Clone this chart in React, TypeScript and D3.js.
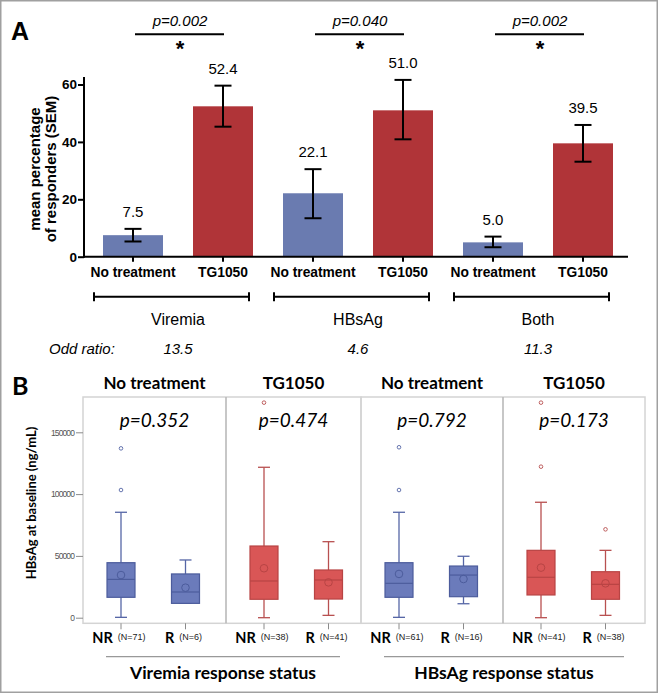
import React, { useEffect, useRef } from "react";
import * as d3 from "d3";

// ---------- Panel A data ----------
const barCategories = ["No treatment", "TG1050", "No treatment", "TG1050", "No treatment", "TG1050"];
const barGroups = ["Viremia", "HBsAg", "Both"];
const barMeans = [7.5, 52.4, 22.1, 51.0, 5.0, 39.5];
const barErrLow = [5.3, 45.3, 13.4, 40.9, 3.3, 33.1];
const barErrHigh = [9.7, 59.6, 30.5, 61.6, 7.0, 45.9];
const pValuesA = ["p=0.002", "p=0.040", "p=0.002"];
const oddRatios = ["13.5", "4.6", "11.3"];
const yTicksA = [0, 20, 40, 60];

// ---------- Panel B data ----------
const boxPanels = ["No treatment", "TG1050", "No treatment", "TG1050"];
const boxPanelP = ["p=0.352", "p=0.474", "p=0.792", "p=0.173"];
const boxStatus = ["Viremia response status", "HBsAg response status"];
const boxGroups = ["NR", "R"];
const boxN = ["N=71", "N=6", "N=38", "N=41", "N=61", "N=16", "N=41", "N=38"];
const whiskerLow = [300, 11600, 0, 1900, 300, 11300, 0, 1900];
const q1 = [16500, 11600, 14900, 15100, 16500, 17000, 18400, 14900];
const median = [31000, 20800, 29700, 30500, 27800, 34500, 32700, 27000];
const q3 = [44500, 35400, 58000, 38600, 44500, 41800, 54500, 37200];
const whiskerHigh = [85300, 46700, 121700, 61500, 85300, 49700, 93400, 54500];
const boxMeans = [34500, 24300, 40000, 28600, 35400, 31300, 40500, 27800];
const outliers = [[137000, 103300], [], [174000], [], [137900, 103300], [], [174000, 122200], [71500]];
const yTicksB = [0, 50000, 100000, 150000];

const W = 658, H = 694;
const ARIAL = "Liberation Sans, Arial, sans-serif";
const LATO = "Lato, 'Open Sans', sans-serif";

export default function App() {
  const ref = useRef<SVGSVGElement>(null);
  useEffect(() => {
    const svg = d3.select(ref.current);
    svg.selectAll("*").remove();

    svg.append("rect").attr("x", 0.75).attr("y", 0.75).attr("width", W - 1.5).attr("height", H - 2.5)
      .attr("fill", "#fff").attr("stroke", "#a0a0a0").attr("stroke-width", 1.5);

    // ================= Panel A =================
    const gA = svg.append("g");
    const x = d3.scaleBand<number>().domain(d3.range(6)).range([88, 628]).paddingInner(1 / 3).paddingOuter(1 / 6);
    const y = d3.scaleLinear().domain([0, 60]).range([256.7, 84.5]);
    const cx = (i: number) => (x(i) as number) + x.bandwidth() / 2;
    const blueA = "#6a7bb0", redA = "#b03438";

    gA.append("text").attr("x", 11).attr("y", 40).attr("font-family", ARIAL).attr("font-weight", "bold")
      .attr("font-size", 25).text("A");

    // bars
    gA.selectAll("rect.bar").data(barMeans).enter().append("rect")
      .attr("x", (_d, i) => x(i) as number).attr("width", x.bandwidth())
      .attr("y", d => y(d)).attr("height", d => y(0) - y(d))
      .attr("fill", (_d, i) => (i % 2 === 0 ? blueA : redA));

    // error bars
    const eb = gA.selectAll("g.eb").data(barMeans).enter().append("g");
    eb.append("line").attr("x1", (_d, i) => cx(i)).attr("x2", (_d, i) => cx(i))
      .attr("y1", (_d, i) => y(barErrLow[i])).attr("y2", (_d, i) => y(barErrHigh[i]))
      .attr("stroke", "#000").attr("stroke-width", 2);
    [barErrLow, barErrHigh].forEach(arr => {
      eb.append("line").attr("x1", (_d, i) => cx(i) - 8.5).attr("x2", (_d, i) => cx(i) + 8.5)
        .attr("y1", (_d, i) => y(arr[i])).attr("y2", (_d, i) => y(arr[i]))
        .attr("stroke", "#000").attr("stroke-width", 2);
    });
    eb.append("text").attr("x", (_d, i) => cx(i)).attr("y", (_d, i) => y(barErrHigh[i]) - 12)
      .attr("text-anchor", "middle").attr("font-family", ARIAL).attr("font-size", 15)
      .text(d => d3.format(".1f")(d));

    // y axis
    const yAx = gA.append("g").attr("transform", "translate(84,0)")
      .call(d3.axisLeft(y).tickValues(yTicksA).tickSize(6).tickPadding(1));
    yAx.select(".domain").remove();
    yAx.selectAll(".tick line").attr("stroke", "#000").attr("stroke-width", 2);
    yAx.selectAll(".tick text").attr("font-family", ARIAL).attr("font-weight", "bold").attr("font-size", 13.5).attr("fill", "#000");
    gA.append("line").attr("x1", 84).attr("x2", 84).attr("y1", y(0) + 1).attr("y2", y(62.6))
      .attr("stroke", "#000").attr("stroke-width", 2);

    // x axis
    gA.append("line").attr("x1", 83).attr("x2", 628).attr("y1", y(0)).attr("y2", y(0))
      .attr("stroke", "#000").attr("stroke-width", 2);
    const xt = gA.selectAll("g.xt").data(barCategories).enter().append("g");
    xt.append("line").attr("x1", (_d, i) => cx(i)).attr("x2", (_d, i) => cx(i))
      .attr("y1", y(0)).attr("y2", y(0) + 5).attr("stroke", "#000").attr("stroke-width", 2);
    xt.append("text").attr("x", (_d, i) => cx(i)).attr("y", 276.5).attr("text-anchor", "middle")
      .attr("font-family", ARIAL).attr("font-weight", "bold").attr("font-size", 13.8).text(d => d);

    // y title
    const yt = gA.append("text").attr("transform", "translate(0,169) rotate(-90)")
      .attr("text-anchor", "middle").attr("font-family", ARIAL).attr("font-weight", "bold").attr("font-size", 15);
    yt.append("tspan").attr("x", 0).attr("y", 40).text("mean percentage");
    yt.append("tspan").attr("x", 0).attr("y", 56).text("of responders (SEM)");

    // significance
    barGroups.forEach((_g, k) => {
      const a = cx(2 * k), b = cx(2 * k + 1);
      gA.append("line").attr("x1", a + 2).attr("x2", b + 1).attr("y1", 34.3).attr("y2", 34.3)
        .attr("stroke", "#000").attr("stroke-width", 2);
      gA.append("text").attr("x", (a + b) / 2 + 2).attr("y", 25.5).attr("text-anchor", "middle")
        .attr("font-family", ARIAL).attr("font-style", "italic").attr("font-size", 15).text(pValuesA[k]);
      gA.append("text").attr("x", (a + b) / 2 + 2).attr("y", 55.5).attr("text-anchor", "middle")
        .attr("font-family", ARIAL).attr("font-weight", "bold").attr("font-size", 22).text("*");
    });

    // group brackets
    barGroups.forEach((g, k) => {
      const c = (cx(2 * k) + cx(2 * k + 1)) / 2;
      const l = c - 84, r = c + 71, yy = 296.7;
      gA.append("line").attr("x1", l).attr("x2", r).attr("y1", yy).attr("y2", yy).attr("stroke", "#000").attr("stroke-width", 2);
      [l, r].forEach(xx => gA.append("line").attr("x1", xx).attr("x2", xx).attr("y1", yy - 4.5).attr("y2", yy + 4.5)
        .attr("stroke", "#000").attr("stroke-width", 2));
      gA.append("text").attr("x", c).attr("y", 325).attr("text-anchor", "middle")
        .attr("font-family", ARIAL).attr("font-size", 16).text(g);
      gA.append("text").attr("x", c).attr("y", 354).attr("text-anchor", "middle")
        .attr("font-family", ARIAL).attr("font-style", "italic").attr("font-size", 15).text(oddRatios[k]);
    });
    gA.append("text").attr("x", 49).attr("y", 354).attr("font-family", ARIAL).attr("font-style", "italic")
      .attr("font-size", 15).text("Odd ratio:");

    // ================= Panel B =================
    const gB = svg.append("g");
    const edges = [83, 226, 361, 503, 645];
    const top = 397, bottom = 623.3;
    const yB = d3.scaleLinear().domain([0, 150000]).range([617.7, 432.3]);
    const xin = d3.scalePoint<string>().domain(boxGroups).range([38, 102.5]);

    gB.append("text").attr("x", 12).attr("y", 395).attr("font-family", LATO).attr("font-weight", "bold")
      .attr("font-size", 25).text("B");

    // frames
    [[0, 2], [2, 4]].forEach(([a, b]) => {
      gB.append("rect").attr("x", edges[a]).attr("y", top).attr("width", edges[b] - edges[a]).attr("height", bottom - top)
        .attr("fill", "none").attr("stroke", "#d4d4d4").attr("stroke-width", 1.5);
    });
    [1, 3].forEach(i => gB.append("line").attr("x1", edges[i]).attr("x2", edges[i]).attr("y1", top).attr("y2", bottom)
      .attr("stroke", "#b9b9b9").attr("stroke-width", 1.6));

    // y axis
    const yAxB = gB.append("g").attr("transform", `translate(${edges[0]},0)`)
      .call(d3.axisLeft(yB).tickValues(yTicksB).tickSize(7).tickPadding(2).tickFormat(d3.format("d")));
    yAxB.select(".domain").remove();
    yAxB.selectAll(".tick line").attr("stroke", "#8a8a8a");
    yAxB.selectAll(".tick text").attr("font-family", ARIAL).attr("font-size", 8.5).attr("letter-spacing", -0.9).attr("fill", "#555");

    gB.append("text").attr("transform", "translate(36,503) rotate(-90)").attr("text-anchor", "middle")
      .attr("font-family", LATO).attr("font-weight", "bold").attr("font-size", 13).text("HBsAg at baseline (ng/mL)");

    const blue = { fill: "#6b7bbb", stroke: "#4c5c9c", line: "#5666a6" };
    const red = { fill: "#d95656", stroke: "#b84444", line: "#b85050" };

    boxPanels.forEach((title, p) => {
      const left = edges[p], right = edges[p + 1], mid = (left + right) / 2;
      const col = p % 2 === 0 ? blue : red;
      gB.append("text").attr("x", mid).attr("y", 389).attr("text-anchor", "middle")
        .attr("font-family", LATO).attr("font-weight", "bold").attr("font-size", 17).text(title);
      gB.append("text").attr("x", mid).attr("y", 426.5).attr("text-anchor", "middle")
        .attr("font-family", LATO).attr("font-style", "italic").attr("font-size", 19).text(boxPanelP[p]);

      boxGroups.forEach((grp, j) => {
        const i = p * 2 + j;
        const bx = left + (xin(grp) as number);
        const bw = 28;
        const g = gB.append("g");
        // whiskers
        g.append("line").attr("x1", bx).attr("x2", bx).attr("y1", yB(q3[i])).attr("y2", yB(whiskerHigh[i]))
          .attr("stroke", col.line).attr("stroke-width", 1.3);
        g.append("line").attr("x1", bx).attr("x2", bx).attr("y1", yB(q1[i])).attr("y2", yB(whiskerLow[i]))
          .attr("stroke", col.line).attr("stroke-width", 1.3);
        [whiskerHigh[i], whiskerLow[i]].forEach(v => g.append("line").attr("x1", bx - 6).attr("x2", bx + 6)
          .attr("y1", yB(v)).attr("y2", yB(v)).attr("stroke", col.line).attr("stroke-width", 1.3));
        // box
        g.append("rect").attr("x", bx - bw / 2).attr("width", bw).attr("y", yB(q3[i])).attr("height", yB(q1[i]) - yB(q3[i]))
          .attr("fill", col.fill).attr("stroke", col.stroke).attr("stroke-width", 1.2);
        g.append("line").attr("x1", bx - bw / 2).attr("x2", bx + bw / 2).attr("y1", yB(median[i])).attr("y2", yB(median[i]))
          .attr("stroke", col.stroke).attr("stroke-width", 1.2);
        g.append("circle").attr("cx", bx).attr("cy", yB(boxMeans[i])).attr("r", 3.8)
          .attr("fill", "none").attr("stroke", col.stroke).attr("stroke-width", 1);
        outliers[i].forEach(v => g.append("circle").attr("cx", bx).attr("cy", yB(v)).attr("r", 1.8)
          .attr("fill", "none").attr("stroke", col.line).attr("stroke-width", 0.9));
        // x tick + label
        g.append("line").attr("x1", bx).attr("x2", bx).attr("y1", bottom).attr("y2", bottom + 6).attr("stroke", "#8a8a8a");
        const t = g.append("text").attr("x", bx - 2).attr("y", 643).attr("text-anchor", "middle");
        t.append("tspan").attr("font-family", LATO).attr("font-weight", "bold").attr("font-size", 14.5).text(grp);
        t.append("tspan").attr("dx", 5).attr("dy", -3).attr("font-family", ARIAL).attr("font-size", 9).attr("fill", "#222")
          .text(`(${boxN[i]})`);
      });
    });

    // response status
    [[0, 2], [2, 4]].forEach(([a, b], k) => {
      const l = edges[a] + 23, r = edges[b] - 21;
      gB.append("line").attr("x1", l).attr("x2", r).attr("y1", 656.7).attr("y2", 656.7).attr("stroke", "#999").attr("stroke-width", 1.2);
      gB.append("text").attr("x", (l + r) / 2).attr("y", 679).attr("text-anchor", "middle")
        .attr("font-family", LATO).attr("font-weight", "bold").attr("font-size", 17.5).text(boxStatus[k]);
    });
  }, []);

  return <svg ref={ref} width={W} height={H} style={{ position: "absolute", left: 0, top: 0, background: "#fff" }} />;
}
